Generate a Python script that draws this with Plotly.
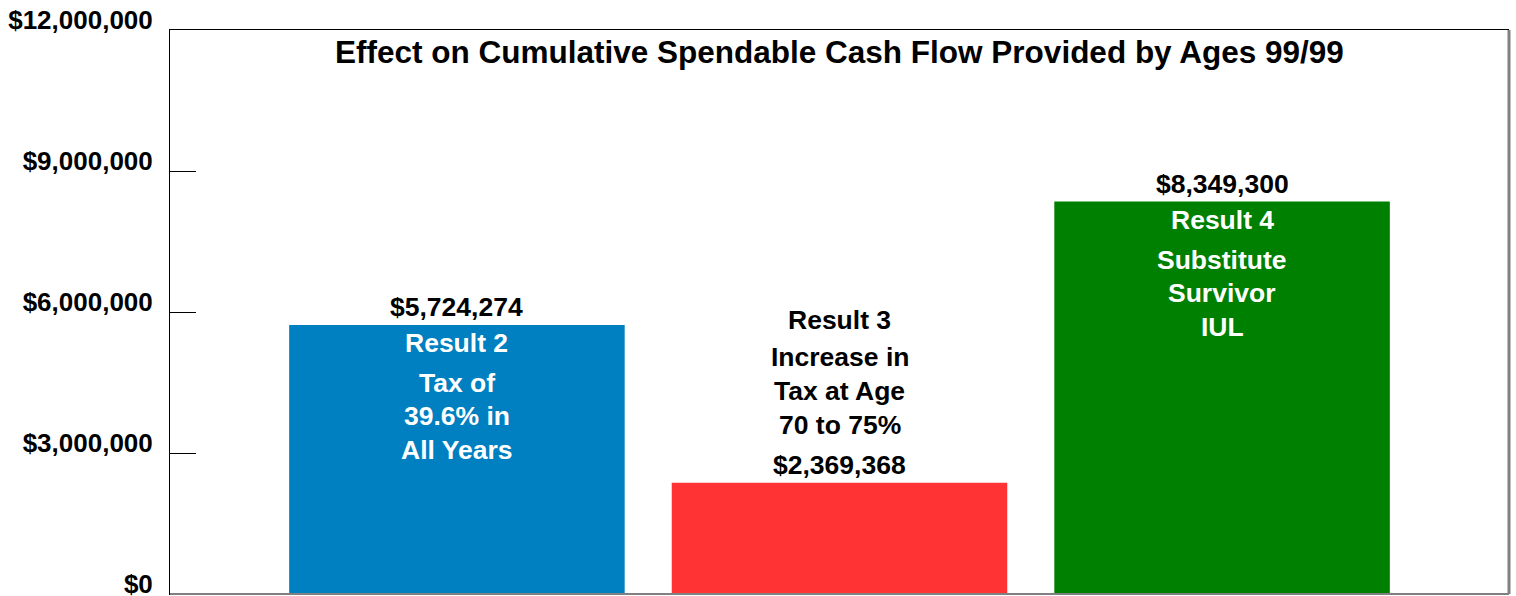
import plotly.graph_objects as go

# Data
categories = ["Result 2", "Result 3", "Result 4"]
values = [5724274, 2369368, 8349300]
value_labels = ["$5,724,274", "$2,369,368", "$8,349,300"]
bar_colors = ["#0080C0", "#FF3333", "#008000"]
headings = ["Result 2", "Result 3", "Result 4"]
descriptions = [
    ["Tax of", "39.6% in", "All Years"],
    ["Increase in", "Tax at Age", "70 to 75%"],
    ["Substitute", "Survivor", "IUL"],
]
tick_values = [0, 3000000, 6000000, 9000000, 12000000]
tick_labels = ["$0", "$3,000,000", "$6,000,000", "$9,000,000", "$12,000,000"]
title_text = "Effect on Cumulative Spendable Cash Flow Provided by Ages 99/99"

FONT = "Liberation Sans, Arial, sans-serif"
TEXT_SIZE = 26.5
xpos = list(range(len(categories)))

fig = go.Figure(
    go.Bar(
        x=xpos,
        y=values,
        width=0.877,
        marker=dict(color=bar_colors, line=dict(width=0)),
        hoverinfo="skip",
    )
)

annotations = []


def add_text(x, y, text, shift, color):
    annotations.append(
        dict(
            x=x, y=y, xref="x", yref="y", text=text, showarrow=False,
            xanchor="center", yanchor="middle", yshift=shift,
            font=dict(family=FONT, size=TEXT_SIZE, color=color, weight="bold"),
        )
    )


for i, (v, lbl, head, desc) in enumerate(zip(values, value_labels, headings, descriptions)):
    if i == 1:
        # Short bar: all text sits above it in black
        add_text(i, v, lbl, 18, "black")
        add_text(i, v, desc[2], 58, "black")
        add_text(i, v, desc[1], 92, "black")
        add_text(i, v, desc[0], 126, "black")
        add_text(i, v, head, 163, "black")
    else:
        add_text(i, v, lbl, 18, "black")
        add_text(i, v, head, -18, "white")
        add_text(i, v, desc[0], -58, "white")
        add_text(i, v, desc[1], -91, "white")
        add_text(i, v, desc[2], -125, "white")

annotations.append(
    dict(
        x=0.5, y=1, xref="paper", yref="paper", text=title_text, showarrow=False,
        xanchor="center", yanchor="middle", yshift=-22,
        font=dict(family=FONT, size=31.5, color="black", weight="bold"),
    )
)

fig.update_layout(
    width=1516,
    height=596,
    margin=dict(l=170, r=7, t=30, b=2),
    paper_bgcolor="white",
    plot_bgcolor="white",
    showlegend=False,
    annotations=annotations,
    xaxis=dict(
        range=[-0.75, 2.75],
        showticklabels=False,
        ticks="",
        showgrid=False,
        zeroline=False,
        showline=True,
        linecolor="black",
        linewidth=1,
        mirror=True,
        automargin=False,
        fixedrange=True,
    ),
    yaxis=dict(
        range=[0, 12000000],
        tickvals=tick_values,
        ticktext=tick_labels,
        ticks="inside",
        ticklen=26,
        tickwidth=1,
        tickcolor="black",
        ticklabelstandoff=11,
        ticklabelshift=-10,
        ticklabeloverflow="allow",
        tickfont=dict(family=FONT, size=26, color="black", weight="bold"),
        showgrid=False,
        zeroline=False,
        showline=True,
        linecolor="black",
        linewidth=1,
        automargin=False,
        fixedrange=True,
    ),
    shapes=[
        dict(type="line", xref="paper", yref="paper", x0=1, x1=1, y0=0, y1=1,
             line=dict(color="#808080", width=3)),
        dict(type="line", xref="paper", yref="paper", x0=0, x1=1, y0=0, y1=0,
             line=dict(color="#808080", width=2)),
    ],
)

fig.write_html("out.html", config={"displayModeBar": False})
